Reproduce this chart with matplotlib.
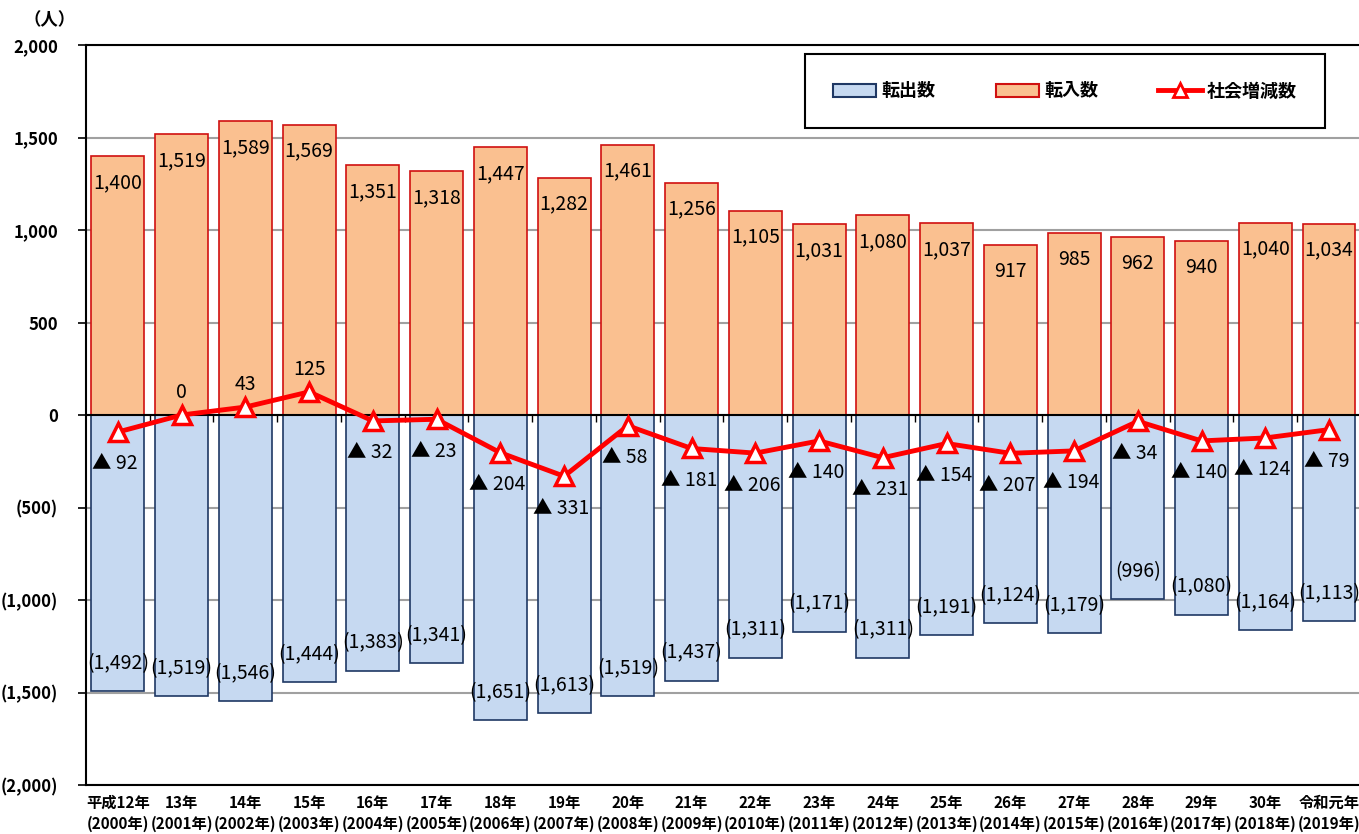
import matplotlib
matplotlib.use('Agg')
import matplotlib.pyplot as plt
from matplotlib.lines import Line2D
from matplotlib.patches import Patch

plt.rcParams['font.family'] = ['Noto Sans CJK JP', 'DejaVu Sans']

# data
era_labels = ['平成12年', '13年', '14年', '15年', '16年', '17年', '18年', '19年', '20年', '21年',
              '22年', '23年', '24年', '25年', '26年', '27年', '28年', '29年', '30年', '令和元年']
years = list(range(2000, 2020))
moved_in = [1400, 1519, 1589, 1569, 1351, 1318, 1447, 1282, 1461, 1256,
            1105, 1031, 1080, 1037, 917, 985, 962, 940, 1040, 1034]
moved_out = [1492, 1519, 1546, 1444, 1383, 1341, 1651, 1613, 1519, 1437,
             1311, 1171, 1311, 1191, 1124, 1179, 996, 1080, 1164, 1113]
net_change = [-92, 0, 43, 125, -32, -23, -204, -331, -58, -181,
              -206, -140, -231, -154, -207, -194, -34, -140, -124, -79]

in_fill, in_edge = '#FAC090', '#D01010'
out_fill, out_edge = '#C6D9F1', '#1F3864'
line_red = '#FF0000'

fig = plt.figure(figsize=(13.59, 8.34), dpi=100)
ax = fig.add_axes([86 / 1359, 1 - 785 / 834, (1359 - 86) / 1359, 740 / 834])

x = list(range(len(years)))
w = 0.83
ax.bar(x, moved_in, width=w, color=in_fill, edgecolor=in_edge, linewidth=1.2, zorder=2)
ax.bar(x, [-v for v in moved_out], width=w, color=out_fill, edgecolor=out_edge, linewidth=1.2, zorder=2)
ax.plot(x, net_change, color=line_red, lw=3.5, marker='^', markersize=13,
        markerfacecolor='white', markeredgecolor=line_red, markeredgewidth=2.5, zorder=4)

# data labels
for i in x:
    ax.annotate(f'{moved_in[i]:,}', (i, moved_in[i]), xytext=(0, -19), textcoords='offset points',
                ha='center', va='center', fontsize=14, zorder=5)
    ax.annotate(f'({moved_out[i]:,})', (i, -moved_out[i]), xytext=(0, 20), textcoords='offset points',
                ha='center', va='center', fontsize=14, zorder=5)
    v = net_change[i]
    if v < 0:
        ax.annotate(f'▲ {-v}', (i, v), xytext=(-2, -23), textcoords='offset points',
                    ha='center', va='center', fontsize=14, zorder=5)
    else:
        ax.annotate(f'{v}', (i, v), xytext=(0, 16), textcoords='offset points',
                    ha='center', va='center', fontsize=14, zorder=5)

# axes styling
ax.set_xlim(-0.5, 19.47)
ax.set_ylim(-2000, 2000)
ax.set_yticks(range(-2000, 2001, 500))
ax.set_yticklabels([f'{t:,}' if t >= 0 else f'({-t:,})' for t in range(-2000, 2001, 500)],
                   fontsize=12, fontweight='bold')
ax.yaxis.grid(True, color='#A0A0A0', lw=1.5, zorder=0)
ax.set_axisbelow(True)
ax.axhline(0, color='black', lw=1.5, zorder=3)
ax.vlines([i + 0.5 for i in x[:-1]], -40, 0, color='black', lw=1, zorder=3)
for s in ['left', 'bottom', 'top']:
    ax.spines[s].set_linewidth(1.5)
ax.spines['right'].set_visible(False)
ax.tick_params(axis='y', length=6, width=1.2, pad=14)
ax.tick_params(axis='x', length=0, pad=7)
ax.set_xticks(x)
ax.set_xticklabels([f'{e}\n({y}年)' for e, y in zip(era_labels, years)],
                   fontsize=11, fontweight='bold', linespacing=1.35)

fig.text(50 / 1359, 1 - 20 / 834, '（人）', fontsize=12.5, fontweight='bold', ha='center', va='center')

handles = [Patch(facecolor=out_fill, edgecolor=out_edge, lw=1.5, label='転出数'),
           Patch(facecolor=in_fill, edgecolor=in_edge, lw=1.5, label='転入数'),
           Line2D([], [], color=line_red, lw=3.5, marker='^', markersize=10,
                  markerfacecolor='white', markeredgecolor=line_red, markeredgewidth=2, label='社会増減数')]
leg = ax.legend(handles=handles, ncol=3, loc='center', mode='expand',
                bbox_to_anchor=(805 / 1359, 1 - 127 / 834, 520 / 1359, 72 / 834),
                bbox_transform=fig.transFigure, fancybox=False, edgecolor='black', framealpha=1,
                prop={'size': 13, 'weight': 'bold'}, borderpad=1.55, columnspacing=2.5,
                handlelength=2.4, handletextpad=0.3, borderaxespad=0)
leg.get_frame().set_linewidth(1.5)

fig.savefig('out.png', dpi=100)
